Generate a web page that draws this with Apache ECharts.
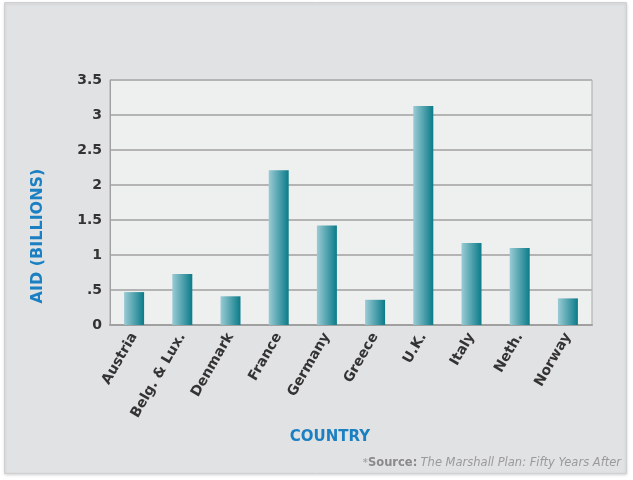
<!DOCTYPE html>
<html>
<head>
<meta charset="utf-8">
<style>
html,body{margin:0;padding:0;background:#ffffff;}
#chart{width:633px;height:480px;}
</style>
<script src="https://cdn.jsdelivr.net/npm/echarts@6/dist/echarts.min.js"></script>
</head>
<body>
<div id="chart"></div>
<script>
var categories = ['Austria', 'Belg. & Lux.', 'Denmark', 'France', 'Germany', 'Greece', 'U.K.', 'Italy', 'Neth.', 'Norway'];
var aidBillions = [0.47, 0.73, 0.41, 2.21, 1.42, 0.36, 3.13, 1.17, 1.10, 0.38];
var yTickLabels = ['0', '.5', '1', '1.5', '2', '2.5', '3', '3.5'];
var yAxisTitle = 'AID (BILLIONS)';
var xAxisTitle = 'COUNTRY';

var chart = echarts.init(document.getElementById('chart'), null, {renderer: 'canvas'});
var font = 'DejaVu Sans, Verdana, sans-serif';
chart.setOption({
  backgroundColor: '#ffffff',
  animation: false,
  graphic: [
    {type: 'rect', z: -10, shape: {x: 4.5, y: 2.5, width: 622, height: 471},
     style: {fill: '#e1e2e4', stroke: '#cfd0d2', lineWidth: 1, shadowBlur: 3, shadowColor: 'rgba(0,0,0,0.15)', shadowOffsetY: 1}},
    {type: 'text', x: 38, y: 236, rotation: Math.PI / 2, z: 10,
     style: {text: yAxisTitle, fill: '#1a80c1', font: 'bold 16px ' + font, align: 'center', verticalAlign: 'middle'}},
    {type: 'text', x: 330, y: 437, z: 10,
     style: {text: xAxisTitle, fill: '#1a80c1', font: 'bold 15px ' + font, align: 'center', verticalAlign: 'middle'}},
    {type: 'text', x: 621, y: 463, z: 10,
     style: {
       text: '{a|*}{b|Source:} {c|The Marshall Plan: Fifty Years After}',
       align: 'right', verticalAlign: 'middle',
       rich: {
         a: {fill: '#9a9a9a', font: '11px ' + font},
         b: {fill: '#8a8a8a', font: 'bold 11.5px ' + font},
         c: {fill: '#9a9a9a', font: 'italic 11.5px ' + font}
       }
     }}
  ],
  grid: {
    left: 110, right: 41, top: 80, bottom: 155,
    show: true, backgroundColor: '#eef0ef', borderColor: '#a9a9a9', borderWidth: 1
  },
  xAxis: {
    type: 'category',
    data: categories,
    axisLine: {lineStyle: {color: '#a0a0a0', width: 2}},
    axisTick: {show: false},
    axisLabel: {rotate: 60, color: '#333333', fontFamily: font, fontWeight: 'bold', fontSize: 14, margin: 9, interval: 0}
  },
  yAxis: {
    type: 'value',
    min: 0, max: 3.5, interval: 0.5,
    axisLine: {show: true, lineStyle: {color: '#a0a0a0', width: 1}},
    axisTick: {show: false},
    splitLine: {lineStyle: {color: '#b4b4b4', width: 2}},
    axisLabel: {
      color: '#333333', fontFamily: font, fontWeight: 'bold', fontSize: 14, margin: 8,
      formatter: function (v, i) { return yTickLabels[Math.round(v / 0.5)]; }
    }
  },
  series: [{
    type: 'bar',
    data: aidBillions,
    barWidth: 20,
    itemStyle: {
      color: new echarts.graphic.LinearGradient(0, 0, 1, 0, [
        {offset: 0, color: '#9acbd5'},
        {offset: 1, color: '#0a7b88'}
      ])
    }
  }]
});
</script>
</body>
</html>
